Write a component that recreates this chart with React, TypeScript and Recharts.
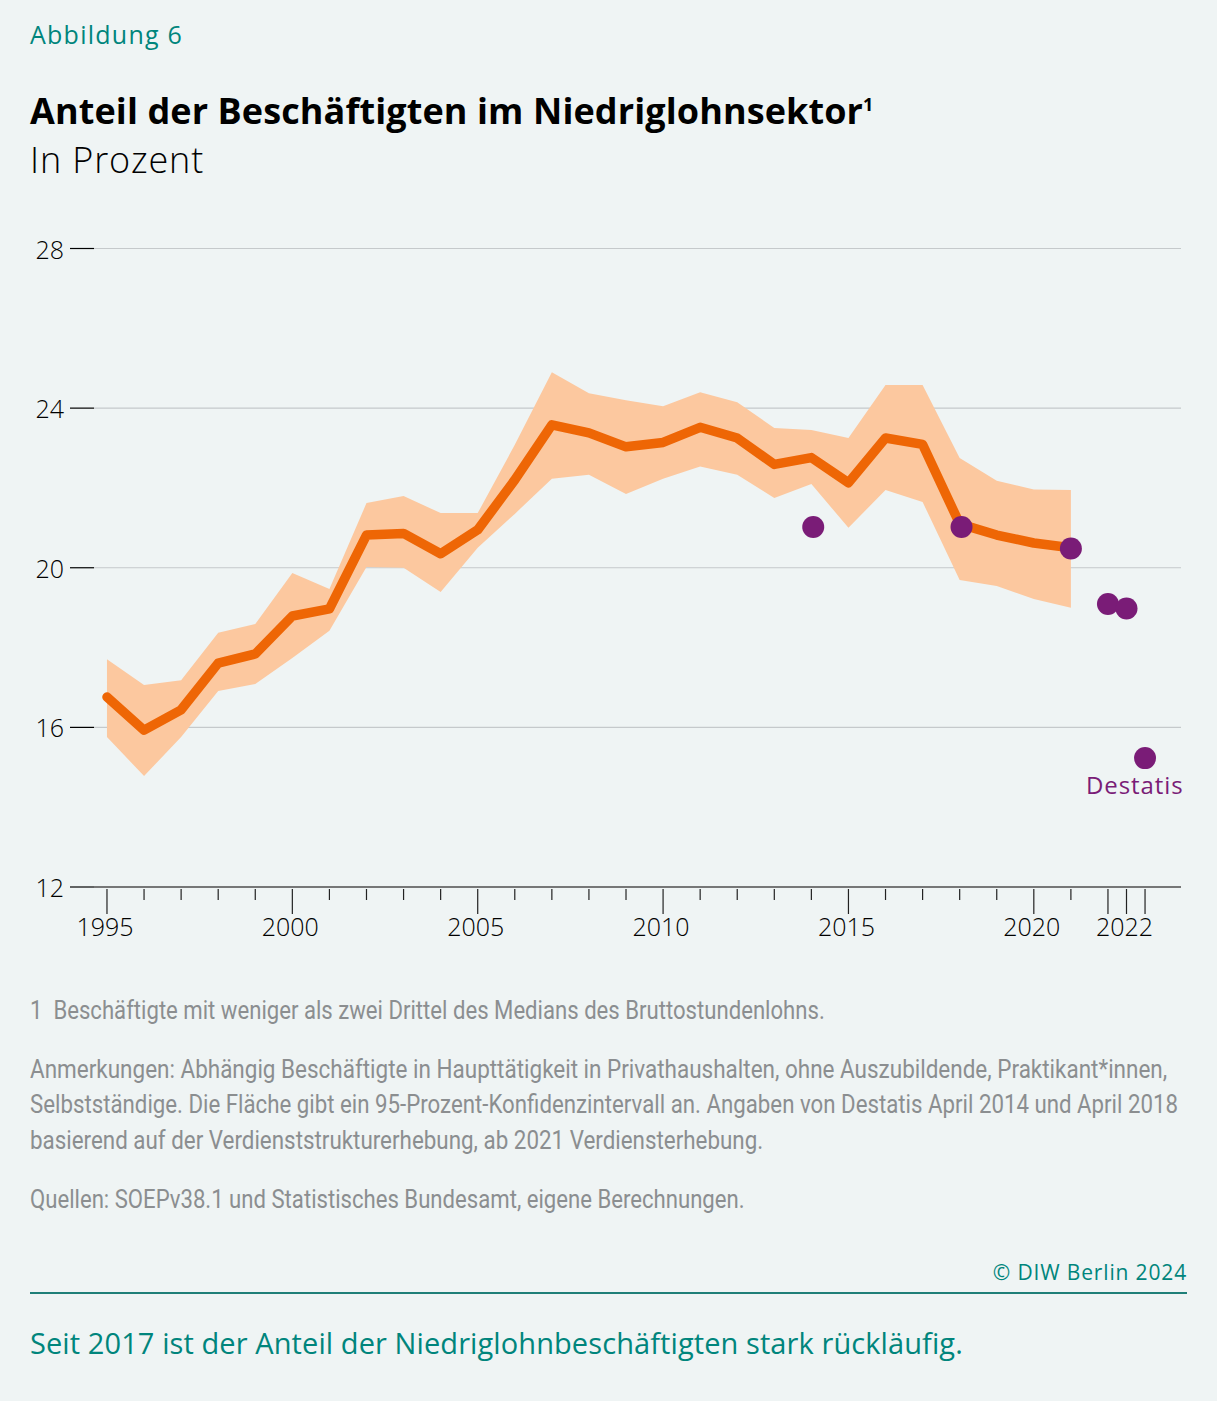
import React from 'react';
import { ComposedChart, Area, Line, XAxis, YAxis, CartesianGrid } from 'recharts';

const years = [1995,1996,1997,1998,1999,2000,2001,2002,2003,2004,2005,2006,2007,2008,2009,2010,2011,2012,2013,2014,2015,2016,2017,2018,2019,2020,2021];
const soep = [16.76,15.93,16.44,17.61,17.84,18.79,18.97,20.82,20.86,20.35,20.95,22.2,23.58,23.38,23.03,23.14,23.52,23.25,22.59,22.76,22.13,23.25,23.09,21.1,20.82,20.62,20.5];
const upper = [17.71,17.06,17.18,18.37,18.59,19.87,19.47,21.62,21.8,21.37,21.37,23.08,24.9,24.37,24.2,24.05,24.4,24.15,23.5,23.45,23.25,24.58,24.58,22.75,22.18,21.96,21.95];
const lower = [15.76,14.78,15.76,16.91,17.09,17.74,18.42,20.02,20.0,19.39,20.5,21.35,22.23,22.33,21.85,22.23,22.54,22.33,21.75,22.1,21.0,21.95,21.65,19.69,19.54,19.22,19.0];
const destatisYears = [2014.05,2018.05,2021,2022,2022.5,2023];
const destatisValues = [21.02,21.02,20.48,19.09,18.98,15.23];
const tickYears = [...years, 2022, 2022.5, 2023];
const yTicks = [12,16,20,24,28];
const majorTicks = [1995,2000,2005,2010,2015,2020,2022,2022.5,2023];
const tickLabels: Record<string,string> = {'1995':'1995','2000':'2000','2005':'2005','2010':'2010','2015':'2015','2020':'2020','2022.5':'2022'};

const data = years.map((year, i) => ({ year, soep: soep[i], band: [lower[i], upper[i]] }));
const destatisData = destatisYears.map((year, i) => ({ year, destatis: destatisValues[i] }));

const AXIS_FONT = '"Open Sans", sans-serif';
const TEAL = '#00857c';
const GREY = '#8b8e90';
const NOTE_FONT = 'Roboto, sans-serif';

const XTick = (props: any) => {
  const { x, y, payload } = props;
  const major = majorTicks.includes(payload.value);
  const label = tickLabels[String(payload.value)];
  return (
    <g>
      <line x1={x} x2={x} y1={y} y2={y + (major ? 25 : 11)} stroke="#222" strokeWidth={1.2} />
      {label ? (
        <text x={x - 2} y={y + 47} textAnchor="middle" fontSize={25} fontWeight={300} fontFamily={AXIS_FONT} fill="#000">{label}</text>
      ) : null}
    </g>
  );
};

const YTick = (props: any) => {
  const { x, y, payload } = props;
  return (
    <text x={x} y={y + 10} textAnchor="end" fontSize={25} fontWeight={300} fontFamily={AXIS_FONT} fill="#000">{payload.value}</text>
  );
};

const Txt = ({ x, y, size, color, weight, family, right, spacing, scale, children }: any) => (
  <div style={{ position: 'absolute', left: right !== undefined ? undefined : x, right, top: y, fontSize: size, color, fontWeight: weight ?? 400, fontFamily: family ?? AXIS_FONT, letterSpacing: spacing, whiteSpace: 'nowrap', lineHeight: 1, transform: scale ? `scaleX(${scale})` : undefined, transformOrigin: 'left top' }}>{children}</div>
);

const Note = ({ y, scale, children }: any) => (
  <Txt x={29.5} y={y} size={25} color={GREY} family={NOTE_FONT} scale={scale}>{children}</Txt>
);

export default function App() {
  return (
    <div style={{ position: 'absolute', left: 0, top: 0, width: 1217, height: 1401, background: '#eff4f4', overflow: 'hidden' }}>
      <Txt x={30} y={22} size={25} color={TEAL} spacing={1.25}>Abbildung 6</Txt>
      <Txt x={30} y={93} size={36} color="#000" weight={700} spacing={0.1}>Anteil der Beschäftigten im Niedriglohnsektor<sup style={{ fontSize: 18, lineHeight: 0 }}>1</sup></Txt>
      <Txt x={30} y={142} size={36} color="#000" weight={300} spacing={0.85}>In Prozent</Txt>

      <div style={{ position: 'absolute', left: 0, top: 230 }}>
        <ComposedChart width={1217} height={720} data={data} margin={{ top: 18.5, right: 36, bottom: 0, left: 0 }}>
          <CartesianGrid vertical={false} stroke="#c5c9cb" strokeWidth={1.2} />
          <XAxis
            dataKey="year"
            type="number"
            domain={[1994.65, 2023.97]}
            ticks={tickYears}
            interval={0}
            height={63}
            tickSize={0}
            tickLine={false}
            axisLine={{ stroke: '#555', strokeWidth: 1.5 }}
            tick={<XTick />}
            allowDataOverflow
          />
          <YAxis
            type="number"
            domain={[12, 28]}
            ticks={yTicks}
            width={94}
            tickSize={24}
            tickMargin={6}
            axisLine={false}
            tickLine={{ stroke: '#000', strokeWidth: 1.2 }}
            tick={<YTick />}
          />
          <Area dataKey="band" stroke="none" fill="#fcc89f" fillOpacity={1} isAnimationActive={false} dot={false} activeDot={false} />
          <Line dataKey="soep" stroke="#ee6605" strokeWidth={9.5} strokeLinejoin="round" strokeLinecap="round" dot={false} activeDot={false} isAnimationActive={false} />
          <Line data={destatisData} dataKey="destatis" stroke="none" dot={{ r: 11, fill: '#7a1c77', stroke: 'none' }} activeDot={false} isAnimationActive={false} />
        </ComposedChart>
      </div>

      <Txt x={1086} y={773} size={24} color="#7a1c77" spacing={0.9}>Destatis</Txt>

      <Note y={998} scale={0.885}>1&nbsp;&nbsp;Beschäftigte mit weniger als zwei Drittel des Medians des Bruttostundenlohns.</Note>
      <Note y={1057} scale={0.899}>Anmerkungen: Abhängig Beschäftigte in Haupttätigkeit in Privathaushalten, ohne Auszubildende, Praktikant*innen,</Note>
      <Note y={1092} scale={0.89}>Selbstständige. Die Fläche gibt ein 95-Prozent-Konfidenzintervall an. Angaben von Destatis April 2014 und April 2018</Note>
      <Note y={1128} scale={0.895}>basierend auf der Verdienststrukturerhebung, ab 2021 Verdiensterhebung.</Note>
      <Note y={1187} scale={0.885}>Quellen: SOEPv38.1 und Statistisches Bundesamt, eigene Berechnungen.</Note>

      <Txt right={30} y={1262} size={21} color={TEAL} spacing={0.85}>© DIW Berlin 2024</Txt>
      <div style={{ position: 'absolute', left: 30, top: 1292, width: 1157, height: 2, background: '#1f7f78' }} />
      <Txt x={30} y={1328} size={29} color={TEAL} spacing={0.09}>Seit 2017 ist der Anteil der Niedriglohnbeschäftigten stark rückläufig.</Txt>
    </div>
  );
}
